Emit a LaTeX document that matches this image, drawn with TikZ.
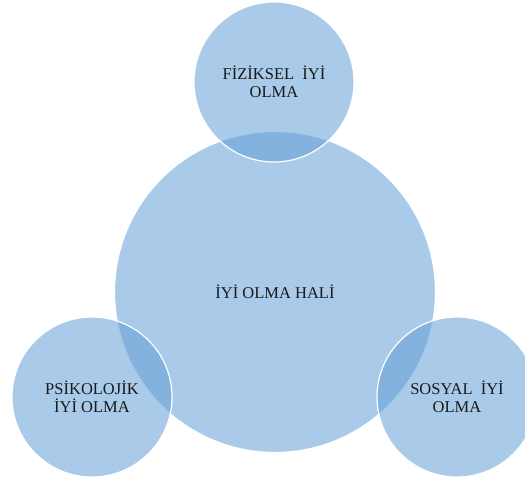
\documentclass[tikz,border=0pt]{standalone}
\usepackage{fontspec}
\setmainfont{Liberation Serif}
\usetikzlibrary{positioning}
\definecolor{bubblefill}{RGB}{104,161,215}
\tikzset{
  bubble/.style={circle, draw=white, line width=1.2pt, fill=bubblefill,
    fill opacity=0.57, text opacity=1, inner sep=0pt, align=center,
    text=black!90, font=\fontsize{16.5}{18.5}\selectfont},
  big bubble/.style={bubble, minimum size=321pt},
  small bubble/.style={bubble, minimum size=160pt}
}
\begin{document}
\begin{tikzpicture}[x=1pt, y=-1pt]
\useasboundingbox (0,0) rectangle (525,479);
\clip (0,0) rectangle (525,479);
% centre
\node[big bubble] (hal) at (275,292) {İYİ OLMA HALİ};
% three parts
\node[small bubble] (fizik) at (274,82) {FİZİKSEL\ \ İYİ\\OLMA};
\node[small bubble] (psiko) at (92,397) {PSİKOLOJİK\\İYİ OLMA};
\node[small bubble] (sosyal) at (457,397) {SOSYAL\ \ İYİ\\OLMA};
\end{tikzpicture}
\end{document}
